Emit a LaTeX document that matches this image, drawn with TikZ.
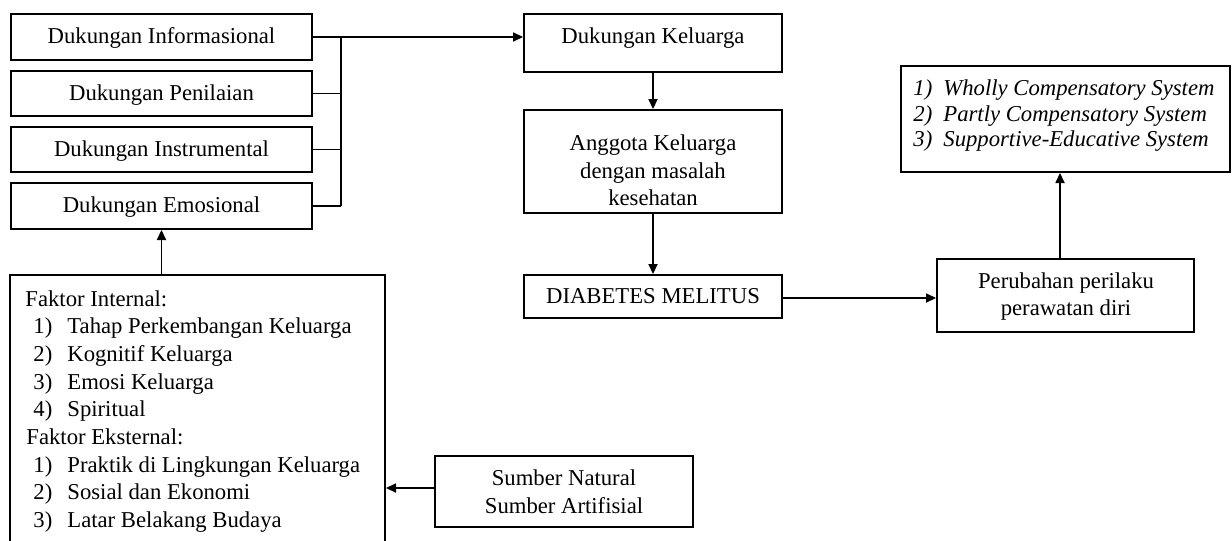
\documentclass[tikz,border=0pt]{standalone}
\usepackage{fontspec}
\setmainfont{Liberation Serif}
\usetikzlibrary{arrows.meta}
\begin{document}
\begin{tikzpicture}[x=0.5pt,y=-0.5pt,
  box/.style={draw=black,line width=1pt,inner sep=0pt,rectangle},
  conn/.style={draw=black,line width=0.55pt},
  arr/.style={conn,-{Triangle[length=5pt,width=4.6pt]}},
  txt/.style={inner sep=0pt,anchor=base,font=\fontsize{11.35}{13.85}\selectfont},
  txtl/.style={txt,anchor=base west},
  txti/.style={txtl,font=\fontsize{11.35}{13.85}\selectfont\itshape}]
\clip (0,0) rectangle (1232,541);
\fill[white] (0,0) rectangle (1232,541);
% left column
\node[box,minimum width=150.5pt,minimum height=23pt] (inf) at (161.5,37) {};
\node[box,minimum width=150.5pt,minimum height=22.5pt] (pen) at (161.5,93.5) {};
\node[box,minimum width=150.5pt,minimum height=22.5pt] (ins) at (161.5,149.5) {};
\node[box,minimum width=150.5pt,minimum height=23pt] (emo) at (161.5,206) {};
\node[txt] (tinf) at (161.5,43) {Dukungan Informasional};
\node[txt] (tpen) at (161.5,100) {Dukungan Penilaian};
\node[txt] (tins) at (161.5,156) {Dukungan Instrumental};
\node[txt] (temo) at (161.5,212) {Dukungan Emosional};
% faktor box
\node[box,minimum width=187.5pt,minimum height=162.5pt] (fak) at (197.5,437.5) {};
\node[txtl] (f0) at (25,306) {Faktor Internal:};
\node[txtl] (f1n) at (33,333.7) {1)};
\node[txtl] (f1) at (67,333.7) {Tahap Perkembangan Keluarga};
\node[txtl] (f2n) at (33,361.4) {2)};
\node[txtl] (f2) at (67,361.4) {Kognitif Keluarga};
\node[txtl] (f3n) at (33,389.1) {3)};
\node[txtl] (f3) at (67,389.1) {Emosi Keluarga};
\node[txtl] (f4n) at (33,416.8) {4)};
\node[txtl] (f4) at (67,416.8) {Spiritual};
\node[txtl] (g0) at (26,444.5) {Faktor Eksternal:};
\node[txtl] (g1n) at (33,472.2) {1)};
\node[txtl] (g1) at (67,472.2) {Praktik di Lingkungan Keluarga};
\node[txtl] (g2n) at (33,499.9) {2)};
\node[txtl] (g2) at (67,499.9) {Sosial dan Ekonomi};
\node[txtl] (g3n) at (33,527.6) {3)};
\node[txtl] (g3) at (67,527.6) {Latar Belakang Budaya};
% sumber
\node[box,minimum width=129pt,minimum height=35.5pt] (sum) at (564,491.5) {};
\node[txt] (ts1) at (564,485) {Sumber Natural};
\node[txt] (ts2) at (564,513) {Sumber Artifisial};
% middle column
\node[box,minimum width=129pt,minimum height=29pt] (dk) at (653,43) {};
\node[txt] (tdk) at (653,43) {Dukungan Keluarga};
\node[box,minimum width=129pt,minimum height=51.5pt] (ang) at (653,161.5) {};
\node[txt] (ta1) at (653,150) {Anggota Keluarga};
\node[txt] (ta2) at (653,178) {dengan masalah};
\node[txt] (ta3) at (653,205) {kesehatan};
\node[box,minimum width=129pt,minimum height=21.5pt] (dm) at (653,296.5) {};
\node[txt] (tdm) at (653,303) {DIABETES MELITUS};
% right column
\node[box,minimum width=128.5pt,minimum height=36.5pt] (per) at (1065.5,295.5) {};
\node[txt] (tp1) at (1066,288) {Perubahan perilaku};
\node[txt] (tp2) at (1066,315) {perawatan diri};
\node[box,minimum width=164.5pt,minimum height=53pt] (wh) at (1065.5,119) {};
\node[txti] (w1n) at (913,95) {1)};
\node[txti] (w1) at (943,95) {Wholly Compensatory System};
\node[txti] (w2n) at (913,121) {2)};
\node[txti] (w2) at (943,121) {Partly Compensatory System};
\node[txti] (w3n) at (913,146) {3)};
\node[txti] (w3) at (943,146) {Supportive-Educative System};
% connectors
\coordinate (busT) at (341,37);
\coordinate (busB) at (341,206);
\draw[arr] (inf.east) -- (inf.east -| dk.west);
\draw[conn] (busT) -- (busB);
\draw[conn] (pen.east) -- (pen.east -| busT);
\draw[conn] (ins.east) -- (ins.east -| busT);
\draw[conn] (emo.east) -- (emo.east -| busT);
\draw[arr] (emo.south |- fak.north) -- (emo.south);
\coordinate (sumA) at (435,488);
\draw[arr] (sumA) -- (sumA -| fak.east);
\draw[arr] (dk.south) -- (ang.north);
\draw[arr] (ang.south) -- (dm.north);
\coordinate (dmA) at (782,298);
\draw[arr] (dmA) -- (dmA -| per.west);
\coordinate (perA) at (1060,259);
\draw[arr] (perA) -- (perA |- wh.south);
\end{tikzpicture}
\end{document}
